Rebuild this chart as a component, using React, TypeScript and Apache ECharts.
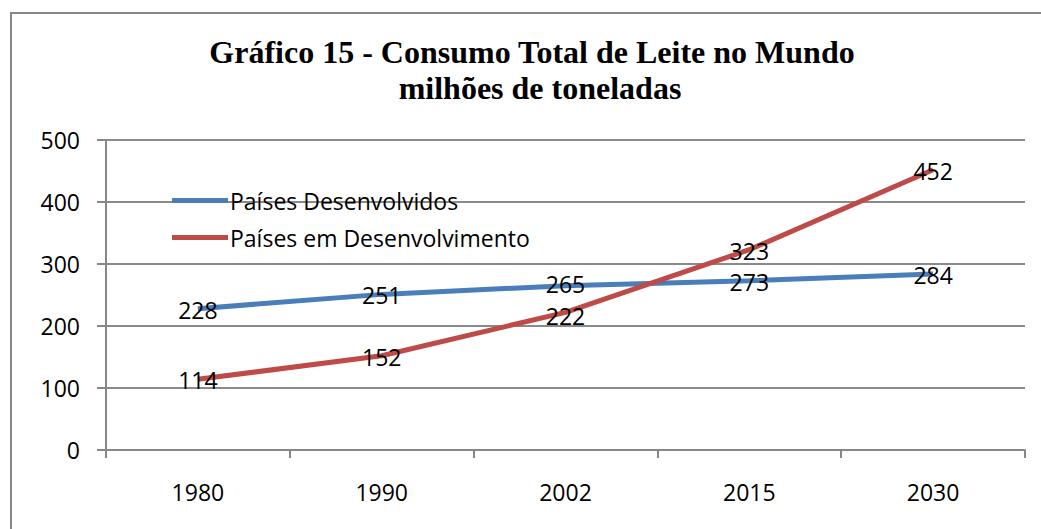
import React, { useEffect, useRef } from "react";
import * as echarts from "echarts";

const categories = ["1980", "1990", "2002", "2015", "2030"];
const developed = [228, 251, 265, 273, 284];
const developing = [114, 152, 222, 323, 452];
const seriesNames = ["Países Desenvolvidos", "Países em Desenvolvimento"];
const titleLines = ["Gráfico 15 - Consumo Total de Leite no Mundo", "milhões de toneladas"];

const SANS = "'Open Sans', 'Noto Sans', sans-serif";
const SERIF = "'Liberation Serif', 'Times New Roman', serif";

export default function App() {
  const ref = useRef<HTMLDivElement>(null);
  useEffect(() => {
    if (!ref.current) return;
    const chart = echarts.init(ref.current, null, { renderer: "svg" });
    const label = {
      show: true,
      position: "inside",
      color: "#000",
      fontFamily: SANS,
      fontSize: 23,
      lineHeight: 23,
      offset: [0, 1],
    };
    // small nudges so the two close labels at 2002 don't collide
    const withNudge = (values: number[], idx: number, dy: number) =>
      values.map((v, i) => (i === idx ? { value: v, label: { offset: [0, dy] } } : v));
    const titleFont = {
      fontFamily: SERIF,
      fontWeight: "bold",
      fontSize: 32,
      lineHeight: 36,
      color: "#000",
    };
    chart.setOption({
      animation: false,
      backgroundColor: "#fff",
      title: {
        text: `{a|${titleLines[0]}}\n{b|${titleLines[1]}}`,
        left: 535,
        top: 29,
        textAlign: "center",
        textStyle: {
          ...titleFont,
          rich: {
            a: { ...titleFont, padding: [0, 16, 0, 0] },
            b: { ...titleFont },
          },
        },
      },
      graphic: [
        {
          type: "rect",
          shape: { x: 11, y: 13, width: 1200, height: 700 },
          style: { fill: "none", stroke: "#878787", lineWidth: 2 },
          silent: true,
        },
      ],
      legend: {
        orient: "vertical",
        left: 167,
        top: 184,
        itemWidth: 56,
        itemHeight: 5,
        itemGap: 14,
        icon: "rect",
        textStyle: { fontFamily: SANS, fontSize: 23, color: "#000", padding: [0, 0, 0, -3] },
        data: seriesNames,
      },
      grid: { left: 106, right: 16, top: 140, bottom: 79 },
      xAxis: {
        type: "category",
        data: categories,
        boundaryGap: true,
        axisLine: { lineStyle: { color: "#878787", width: 2 } },
        axisTick: { show: true, length: 8, lineStyle: { color: "#878787", width: 2 } },
        axisLabel: { fontFamily: SANS, fontSize: 23, color: "#000", margin: 30 },
      },
      yAxis: {
        type: "value",
        min: 0,
        max: 500,
        interval: 100,
        axisLine: { show: true, lineStyle: { color: "#878787", width: 2 } },
        axisTick: { show: true, length: 9, lineStyle: { color: "#878787", width: 2 } },
        axisLabel: { fontFamily: SANS, fontSize: 23, color: "#000", margin: 26 },
        splitLine: { lineStyle: { color: "#8a8a8a", width: 2 } },
      },
      series: [
        {
          name: seriesNames[0],
          type: "line",
          data: withNudge(developed, 2, -2),
          showSymbol: true,
          symbol: "circle",
          symbolSize: 0,
          color: "#4A7EBB",
          lineStyle: { width: 5, color: "#4A7EBB" },
          label,
        },
        {
          name: seriesNames[1],
          type: "line",
          data: withNudge(developing, 2, 4),
          showSymbol: true,
          symbol: "circle",
          symbolSize: 0,
          color: "#BE4B48",
          lineStyle: { width: 5, color: "#BE4B48" },
          label,
        },
      ],
    });
    return () => chart.dispose();
  }, []);
  return (
    <div
      ref={ref}
      style={{ position: "fixed", left: 0, top: 0, width: 1041, height: 529 }}
    />
  );
}
